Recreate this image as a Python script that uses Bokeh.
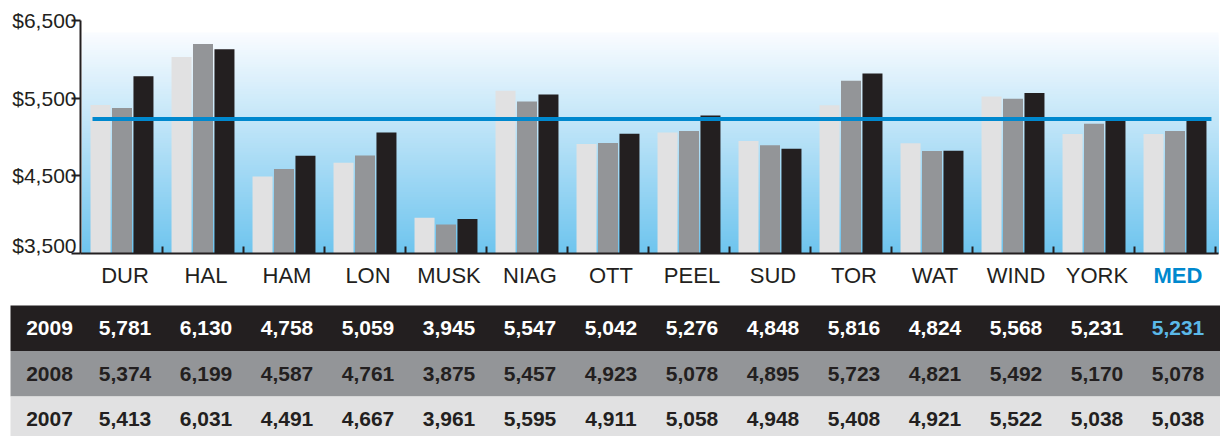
from bokeh.plotting import figure
from bokeh.models import Range1d, FixedTicker, NumeralTickFormatter, ColumnDataSource
from bokeh.layouts import column
from bokeh.embed import file_html
from bokeh.resources import INLINE
from bokeh.core.properties import value

categories = ["DUR", "HAL", "HAM", "LON", "MUSK", "NIAG", "OTT", "PEEL", "SUD", "TOR", "WAT", "WIND", "YORK", "MED"]
v2009 = [5781, 6130, 4758, 5059, 3945, 5547, 5042, 5276, 4848, 5816, 4824, 5568, 5231, 5231]
v2008 = [5374, 6199, 4587, 4761, 3875, 5457, 4923, 5078, 4895, 5723, 4821, 5492, 5170, 5078]
v2007 = [5413, 6031, 4491, 4667, 3961, 5595, 4911, 5058, 4948, 5408, 4921, 5522, 5038, 5038]
years = ["2009", "2008", "2007"]
median_value = 5231
y_ticks = [3500, 4500, 5500, 6500]

FONT = "Liberation Sans"
DARK = "#231F20"
C2007 = "#E1E1E2"
C2008 = "#939598"
C2009 = "#231F20"
BLUE = "#0088CE"
LIGHTBLUE = "#5BB8E8"

n = len(categories)
centers = [i + 0.5 for i in range(n)]

W = 1220
H_TOP = 256
H_TAB = 180

# ---------------- chart ----------------
p = figure(width=W, height=H_TOP, output_backend="svg", toolbar_location=None,
           x_range=Range1d(-0.0123, 14.037), y_range=Range1d(3500, 6500),
           min_border_left=80, min_border_right=2, min_border_top=20, min_border_bottom=3)
p.frame_align = False
p.outline_line_color = None
p.grid.visible = False
p.background_fill_color = "white"
p.border_fill_color = "white"

# gradient background (styling): nested quads, top colour first
top_rgb = (250, 252, 255)
bot_rgb = (110, 196, 238)
g_top = 6345.0
steps = 90
lefts, rights, bottoms, tops, cols = [], [], [], [], []
for k in range(steps - 1, -1, -1):
    t = 3500 + (g_top - 3500) * (k + 1) / steps
    f = (k + 0.5) / steps
    rgb = tuple(int(round(bot_rgb[j] + (top_rgb[j] - bot_rgb[j]) * f)) for j in range(3))
    lefts.append(0.012); rights.append(14.5); bottoms.append(3500); tops.append(t)
    cols.append("#%02x%02x%02x" % rgb)
p.quad(left=lefts, right=rights, bottom=bottoms, top=tops, fill_color=cols, line_color=None)

bw = 0.247
off = 0.265
src = ColumnDataSource(dict(
    x07=[c - off for c in centers], x08=centers, x09=[c + off for c in centers],
    v07=v2007, v08=v2008, v09=v2009))
p.vbar(x="x07", top="v07", bottom=3500, width=bw, source=src, fill_color=C2007, line_color=None)
p.vbar(x="x08", top="v08", bottom=3500, width=bw, source=src, fill_color=C2008, line_color=None)
p.vbar(x="x09", top="v09", bottom=3500, width=bw, source=src, fill_color=C2009, line_color=None)

# median line
p.line(x=[0.136, 13.95], y=[median_value, median_value], line_color=BLUE, line_width=4)

# axes
p.yaxis.ticker = FixedTicker(ticks=y_ticks)
p.yaxis.formatter = NumeralTickFormatter(format="$0,0")
p.yaxis.major_label_text_font = FONT
p.yaxis.major_label_text_font_size = "21px"
p.yaxis.major_label_text_color = DARK
p.yaxis.major_tick_out = 9
p.yaxis.major_tick_in = 0
p.yaxis.major_label_standoff = -5
p.yaxis.minor_tick_line_color = None
p.yaxis.axis_line_color = DARK
p.yaxis.axis_line_width = 2
p.yaxis.major_tick_line_color = DARK
p.yaxis.major_tick_line_width = 2

# bottom axis: only boundary ticks, category names are drawn below as text
p.xaxis.ticker = FixedTicker(ticks=[], minor_ticks=list(range(1, n + 1)))
p.xaxis.major_label_standoff = 0
p.xaxis.major_tick_in = 0
p.xaxis.major_tick_out = 0
p.xaxis.minor_tick_in = 7
p.xaxis.minor_tick_out = 0
p.xaxis.minor_tick_line_color = DARK
p.xaxis.minor_tick_line_width = 2
p.xaxis.axis_line_color = DARK
p.xaxis.axis_line_width = 2

# ---------------- category labels + table ----------------
t = figure(width=W, height=H_TAB, output_backend="svg", toolbar_location=None,
           x_axis_location=None, y_axis_location=None,
           x_range=Range1d(-1.0, 14.062), y_range=Range1d(2.879, -1.077),
           min_border=0, min_border_left=0, min_border_right=0, min_border_top=0, min_border_bottom=0)
t.frame_align = False
t.outline_line_color = None
t.grid.visible = False
t.background_fill_color = "white"
t.border_fill_color = "white"

LABEL_ROW = -0.66
cat_src = ColumnDataSource(dict(
    x=centers, y=[LABEL_ROW] * n, text=categories,
    color=[BLUE if c == "MED" else DARK for c in categories],
    style=["bold" if c == "MED" else "normal" for c in categories]))
t.text(x="x", y="y", text="text", text_color="color", text_font_style="style", source=cat_src,
       x_offset=3, text_align="center", text_baseline="middle", text_font=value(FONT),
       text_font_size="22px")

row_fill = [C2009, C2008, C2007]
t.quad(left=[-0.8765] * 3, right=[14.5] * 3, top=[0, 1, 2], bottom=[1, 2, 3.2],
       fill_color=row_fill, line_color=None)

rows = [v2009, v2008, v2007]
xs, ys, texts, colors = [], [], [], []
for r, (yr, vals) in enumerate(zip(years, rows)):
    xs.append(-0.432); ys.append(r + 0.5); texts.append(yr)
    colors.append("white" if r == 0 else DARK)
    for i, v in enumerate(vals):
        xs.append(centers[i]); ys.append(r + 0.5); texts.append(f"{v:,}")
        if r == 0:
            colors.append(LIGHTBLUE if categories[i] == "MED" else "white")
        else:
            colors.append(DARK)
tsrc = ColumnDataSource(dict(x=xs, y=ys, text=texts, color=colors))
t.text(x="x", y="y", text="text", text_color="color", source=tsrc, x_offset=3,
       text_align="center", text_baseline="middle", text_font=value(FONT),
       text_font_size="21px", text_font_style="bold")

layout = column(p, t, spacing=0)
open("out.html", "w").write(file_html(layout, INLINE))
